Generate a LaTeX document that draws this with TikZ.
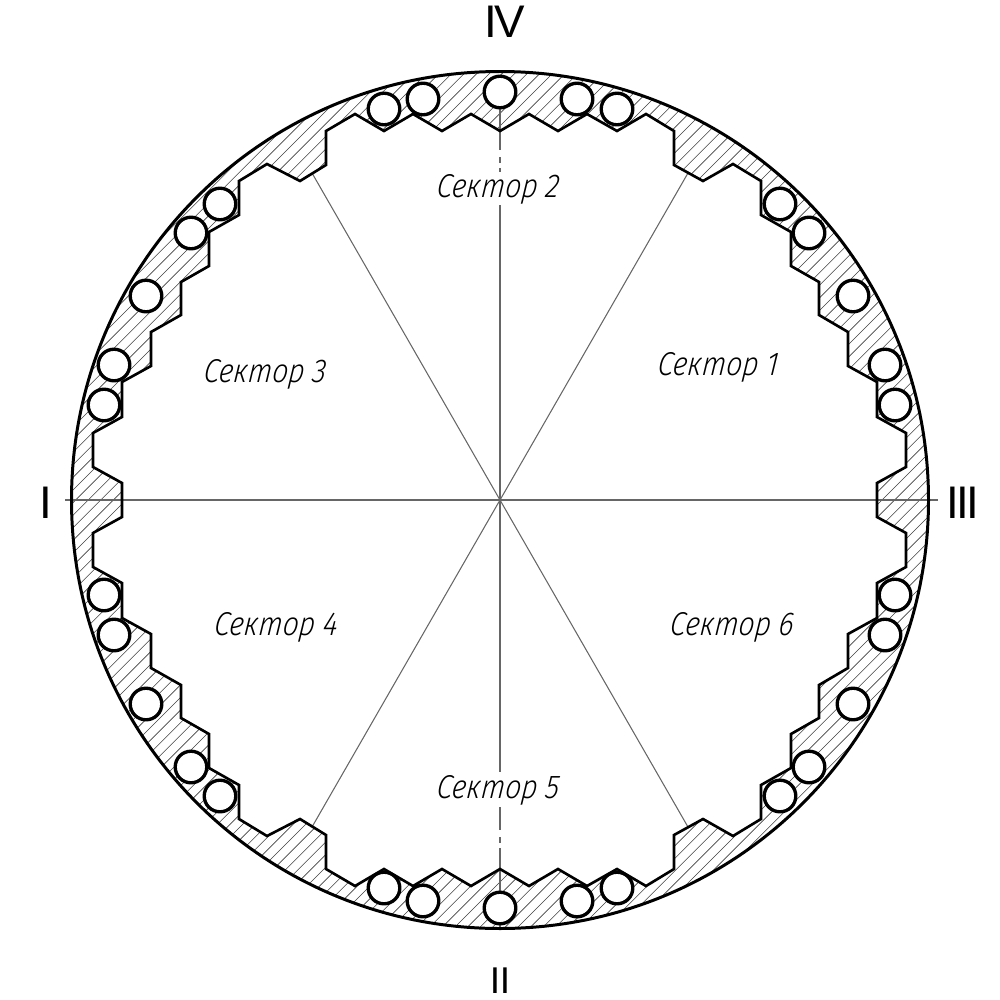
\documentclass[tikz,border=0pt]{standalone}
\usepackage{fontspec}
\setmainfont{Liberation Sans}
\newfontfamily\sektorfont[FakeStretch=0.86, ItalicFeatures={FakeSlant=0.12}]{Fira Sans Light}
\newfontfamily\numfont[LetterSpace=-6]{Liberation Sans}
\newfontfamily\lownumfont[LetterSpace=-1]{Liberation Sans}
\usetikzlibrary{positioning}
\tikzstyle{ring} = [line width=0.75pt, line join=miter]
\tikzstyle{axis} = [line width=0.3pt, black!60]
\tikzstyle{hatch} = [line width=0.17pt, black!75]
\tikzstyle{pin} = [line width=0.95pt, draw=black, fill=white]
\tikzstyle{sector} = [font=\sektorfont\itshape\fontsize{9.4}{11}\selectfont, inner sep=0pt]
\tikzstyle{axismark} = [font=\numfont\fontsize{13}{15}\selectfont, inner sep=0pt]
\tikzstyle{lowmark} = [font=\lownumfont\fontsize{10.6}{12}\selectfont, inner sep=0pt]
\def\toothline{(122,483) -- (93,467) -- (93,433) -- (122,417) -- (122,382) -- (151,366) -- (151,332) -- (181,315) -- (181,282) -- (209,266) -- (209,232) -- (239,215) -- (239,181) -- (267,164) -- (300,181) -- (326,165) -- (326,131) -- (355,114) -- (384,131) -- (413,114) -- (442,131) -- (471,114) -- (500,131) -- (529,114) -- (558,131) -- (587,114) -- (617,131) -- (646,114) -- (674,131) -- (674,165) -- (703,181) -- (733,164) -- (761,181) -- (761,215) -- (791,232) -- (791,266) -- (819,282) -- (819,315) -- (848,332) -- (848,366) -- (877,382) -- (877,417) -- (906,433) -- (906,467) -- (877,483) -- (877,517) -- (906,533) -- (906,567) -- (877,583) -- (877,618) -- (848,634) -- (848,668) -- (819,685) -- (819,718) -- (791,734) -- (791,768) -- (761,785) -- (761,819) -- (733,836) -- (703,819) -- (674,835) -- (674,869) -- (646,886) -- (617,869) -- (587,886) -- (558,869) -- (529,886) -- (500,869) -- (471,886) -- (442,869) -- (413,886) -- (384,869) -- (355,886) -- (326,869) -- (326,835) -- (300,819) -- (267,836) -- (239,819) -- (239,785) -- (209,768) -- (209,734) -- (181,718) -- (181,685) -- (151,668) -- (151,634) -- (122,618) -- (122,583) -- (93,567) -- (93,533) -- (122,517) -- cycle}

\begin{document}
\begin{tikzpicture}[x=0.01cm, y=-0.01cm]
  \useasboundingbox (0,0) rectangle (1000,1000);
  \coordinate (centre) at (500,500);

  % Hatching of the ring
  \begin{scope}[even odd rule]
    \clip (centre) circle [radius=428.5] \toothline;
    \foreach \s in {8.6,21.2,...,1990} {
      \draw[hatch] (\s,0) -- (0,\s);
    }
  \end{scope}

  % Axes
  \draw[axis] (65,500) -- (938,500);
  \draw[axis] (500,75) -- (500,150);
  \draw[axis] (500,157) -- (500,163);
  \draw[axis] (500,168) -- (500,172);
  \draw[axis] (500,205) -- (500,772);
  \draw[axis] (500,807) -- (500,830);
  \draw[axis] (500,837) -- (500,843);
  \draw[axis] (500,848) -- (500,927);
  \foreach \x/\y in {312/173, 688/173, 312/827, 688/827} {
    \draw[axis] (centre) -- (\x,\y);
  }

  % Ring
  \draw[ring] \toothline;
  \draw[line width=0.85pt] (centre) circle [radius=428.5];

  % Rollers
  \foreach \x/\y in {384/109, 423/99, 500/92, 577/99, 617/109,
    220/204, 191/233, 146/296, 114/365, 104/405,
    780/204, 809/233, 853/296, 885/365, 895/405,
    104/595, 114/635, 146/704, 191/767, 220/796,
    895/595, 885/635, 853/704, 809/767, 780/796,
    384/888, 423/901, 500/908, 577/901, 617/888} {
    \draw[pin] (\x,\y) circle [radius=15.8];
  }

  % Sector labels
  \node[sector] (s1) at (717,367) {Сектор 1};
  \node[sector] (s2) at (497,189) {Сектор 2};
  \node[sector] (s3) at (264,374) {Сектор 3};
  \node[sector] (s4) at (275,627) {Сектор 4};
  \node[sector] (s5) at (497,790) {Сектор 5};
  \node[sector] (s6) at (731,627) {Сектор 6};

  % Axis marks
  \node[axismark] (m1) at (46,503) {I};
  \node[lowmark] (m2) at (500,981) {II};
  \node[axismark] (m3) at (963,503) {III};
  \node[axismark] (m4) at (505,22) {IV};
\end{tikzpicture}
\end{document}
